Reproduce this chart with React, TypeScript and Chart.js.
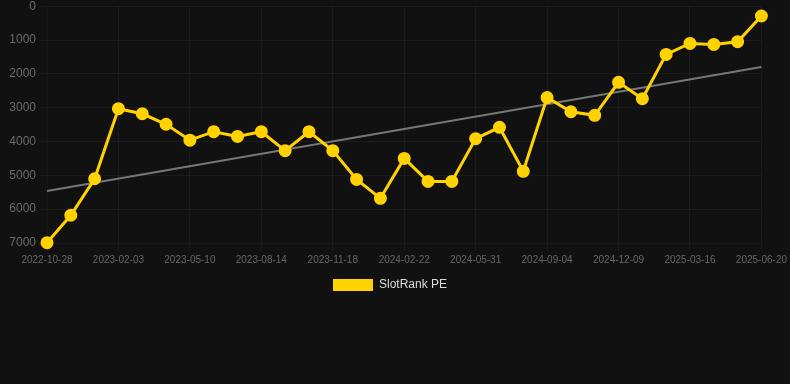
import React, { useEffect, useRef } from "react";
import { Chart, registerables } from "chart.js";

Chart.register(...registerables);

const dates: string[] = [
  "2022-10-28", "2022-11-30", "2023-01-02", "2023-02-03", "2023-03-08", "2023-04-08",
  "2023-05-10", "2023-06-12", "2023-07-13", "2023-08-14", "2023-09-16", "2023-10-17",
  "2023-11-18", "2023-12-21", "2024-01-21", "2024-02-22", "2024-03-26", "2024-04-28",
  "2024-05-31", "2024-07-03", "2024-08-03", "2024-09-04", "2024-10-07", "2024-11-07",
  "2024-12-09", "2025-01-11", "2025-02-12", "2025-03-16", "2025-04-18", "2025-05-19",
  "2025-06-20",
];

const rankValues: number[] = [
  6990, 6180, 5100, 3030, 3180, 3490, 3960, 3710, 3850, 3710, 4270, 3710,
  4270, 5120, 5680, 4500, 5180, 5180, 3915, 3580, 4880, 2700, 3120, 3225,
  2250, 2735, 1425, 1100, 1130, 1050, 290,
];

const trendStart = 5465;
const trendEnd = 1800;

const yTicks = { min: 0, max: 7000, step: 1000 };

const FONT = "'Liberation Sans', Arial, sans-serif";
const GRID = "rgba(255,255,255,0.045)";

export default function App() {
  const ref = useRef<HTMLCanvasElement | null>(null);

  useEffect(() => {
    if (!ref.current) return;
    const trend: (number | null)[] = dates.map((_, i) =>
      i === 0 ? trendStart : i === dates.length - 1 ? trendEnd : null
    );
    const chart = new Chart(ref.current, {
      type: "line",
      data: {
        labels: dates,
        datasets: [
          {
            label: "SlotRank PE",
            data: rankValues,
            borderColor: "#FFD200",
            backgroundColor: "#FFD200",
            borderWidth: 3,
            pointRadius: 5,
            pointBackgroundColor: "#FFD200",
            pointBorderColor: "#FFD200",
            tension: 0,
            order: 1,
            clip: false as any,
          },
          {
            label: "trend",
            data: trend,
            borderColor: "#777777",
            backgroundColor: "#777777",
            borderWidth: 2,
            pointRadius: 0,
            spanGaps: true,
            order: 2,
          },
        ],
      },
      options: {
        animation: false,
        responsive: true,
        maintainAspectRatio: false,
        plugins: {
          legend: {
            position: "bottom",
            labels: {
              color: "#dddddd",
              font: { family: FONT, size: 12 },
              boxWidth: 40,
              boxHeight: 12,
              filter: (item) => item.text !== "trend",
              generateLabels: (c) =>
                Chart.defaults.plugins.legend.labels
                  .generateLabels(c)
                  .map((l) => ({ ...l, lineWidth: 0, strokeStyle: "rgba(0,0,0,0)" })),
            },
          },
          tooltip: { enabled: false },
        },
        scales: {
          x: {
            grid: {
              color: (ctx: any) => (ctx.index % 3 === 0 ? GRID : "rgba(0,0,0,0)"),
            },
            ticks: {
              color: "#666666",
              autoSkip: false,
              maxRotation: 0,
              font: { family: FONT, size: 10 },
              callback: (_v, i) => (i % 3 === 0 ? dates[i] : ""),
            },
          },
          y: {
            reverse: true,
            min: yTicks.min,
            max: yTicks.max,
            grid: { color: GRID },
            afterFit: (scale: any) => {
              scale.width = 57;
            },
            ticks: {
              stepSize: yTicks.step,
              color: "#6a6a6a",
              font: { family: FONT, size: 12 },
              callback: (v) => String(v),
            },
          },
        },
      },
    });
    return () => chart.destroy();
  }, []);

  return (
    <div style={{ background: "#111111", width: 790, height: 384, overflow: "hidden" }}>
      <style>{"body{margin:0;background:#111111;}"}</style>
      <div style={{ position: "relative", width: 800, height: 305, marginTop: -4, marginLeft: -10 }}>
        <canvas ref={ref} />
      </div>
    </div>
  );
}
